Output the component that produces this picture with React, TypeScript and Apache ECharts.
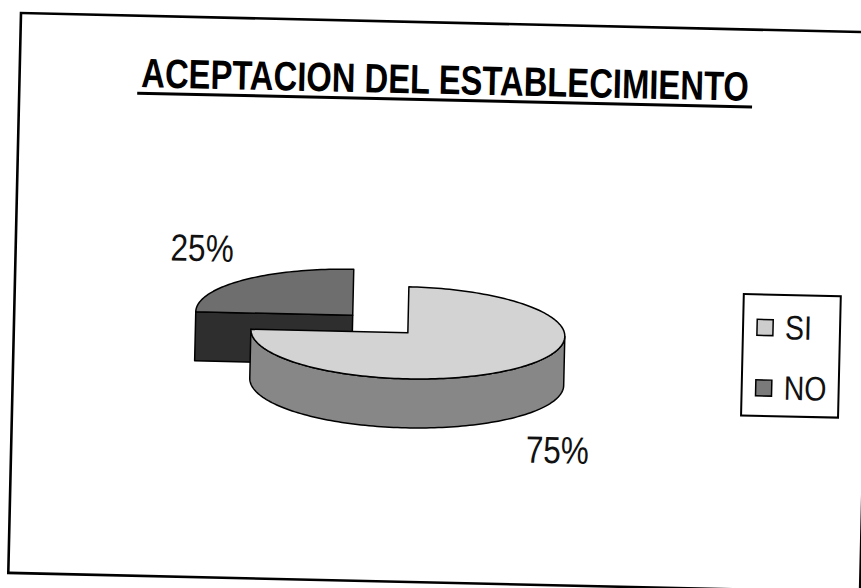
import React, { useEffect, useRef } from "react";
import * as echarts from "echarts";

// ---- data ----
const categories = ["SI", "NO"];
const values = [75, 25];
const titleText = "ACEPTACION DEL ESTABLECIMIENTO";
const explodedCategories = ["NO"];

// ---- styles ----
const TOP_COLORS = ["#d3d3d3", "#6e6e6e"];
const SIDE_COLORS = ["#878787", "#2e2e2e"];
const LEGEND_COLORS = ["#cdcdcd", "#7a7a7a"];
const FONT = "'Liberation Sans', Arial, sans-serif";

// ---- layout (unrotated local coordinates) ----
const CX = 415;
const CY = 324;
const RX = 157;
const RY = 46;
const DEPTH = 49;
const EXPLODE = 0.5;
const START_ANGLE = -90;
const ROTATION_DEG = 1.3;

const total = values.reduce((a, b) => a + b, 0);

const arc = (cx: number, cy: number, a0: number, a1: number, dy = 0) => {
  const pts: number[][] = [];
  const n = Math.max(2, Math.ceil(Math.abs(a1 - a0) / 1.5));
  for (let k = 0; k <= n; k++) {
    const a = ((a0 + ((a1 - a0) * k) / n) * Math.PI) / 180;
    pts.push([cx + RX * Math.cos(a), cy + RY * Math.sin(a) + dy]);
  }
  return pts;
};

const rad = (d: number) => (d * Math.PI) / 180;

function renderItem(params: any, api: any) {
  const i = params.dataIndex;
  const v = api.value(1) as number;
  let before = 0;
  for (let k = 0; k < i; k++) before += values[k];
  const a0 = START_ANGLE + (before / total) * 360;
  const a1 = a0 + (v / total) * 360;
  const midDeg = (a0 + a1) / 2;
  const mid = rad(midDeg);
  const ex = explodedCategories.includes(categories[i]) ? EXPLODE : 0;
  const cx = CX + Math.cos(mid) * RX * ex;
  const cy = CY + Math.sin(mid) * RY * ex;
  const base = Math.round((Math.sin(mid) + 1) * 10) * 10;
  const children: any[] = [];
  const edge = { stroke: "#000", lineWidth: 1.5, lineJoin: "round" };

  const face = (a: number) => {
    const r = rad(a);
    const px = cx + RX * Math.cos(r);
    const py = cy + RY * Math.sin(r);
    return [
      [cx, cy],
      [px, py],
      [px, py + DEPTH],
      [cx, cy + DEPTH],
    ];
  };
  if (Math.sin(rad(a0 - 90)) > 0.01) {
    children.push({ type: "polygon", shape: { points: face(a0) }, style: { fill: SIDE_COLORS[i], ...edge }, z2: base + 1 });
  }
  if (Math.sin(rad(a1 + 90)) > 0.01) {
    children.push({ type: "polygon", shape: { points: face(a1) }, style: { fill: SIDE_COLORS[i], ...edge }, z2: base + 1 });
  }
  for (let k = -1; k <= 1; k++) {
    const s = Math.max(a0, 360 * k);
    const e = Math.min(a1, 360 * k + 180);
    if (e - s > 0.01) {
      const top = arc(cx, cy, s, e);
      const bot = arc(cx, cy, e, s, DEPTH);
      children.push({ type: "polygon", shape: { points: top.concat(bot) }, style: { fill: SIDE_COLORS[i], ...edge }, z2: base + 2 });
    }
  }
  children.push({
    type: "polygon",
    shape: { points: [[cx, cy], ...arc(cx, cy, a0, a1)] },
    style: { fill: TOP_COLORS[i], ...edge },
    z2: base + 3,
  });
  const lx = cx + Math.cos(mid) * (RX + 58);
  const ly = cy + Math.sin(mid) * (RY + 45) + (Math.sin(mid) > 0 ? DEPTH : 0);
  children.push({
    type: "text",
    x: lx,
    y: ly,
    scaleX: 0.83,
    style: {
      text: Math.round((v / total) * 100) + "%",
      fontSize: 38,
      fontFamily: FONT,
      fill: "#111",
      align: "center",
      verticalAlign: "middle",
    },
    z2: 200,
  });
  return { type: "group", children };
}

export default function App() {
  const ref = useRef<HTMLDivElement>(null);
  useEffect(() => {
    if (!ref.current) return;
    const chart = echarts.init(ref.current, undefined, { renderer: "svg" });
    const legendY = [310.5, 371];
    const legendElems: any[] = [];
    categories.forEach((c, i) => {
      legendElems.push({
        type: "rect",
        shape: { x: 764, y: legendY[i] - 8, width: 16, height: 16 },
        style: { fill: LEGEND_COLORS[i], stroke: "#000", lineWidth: 1.5 },
      });
      legendElems.push({
        type: "text",
        x: 792,
        y: legendY[i],
        scaleX: 0.84,
        style: { text: c, fontSize: 34, fontFamily: FONT, fill: "#111", align: "left", verticalAlign: "middle" },
      });
    });
    chart.setOption({
      animation: false,
      graphic: [
        {
          type: "rect",
          shape: { x: 21, y: 13, width: 852, height: 560 },
          style: { fill: "none", stroke: "#000", lineWidth: 2.6 },
        },
        {
          type: "text",
          x: 446.5,
          y: 70,
          scaleX: 0.8,
          style: {
            text: titleText,
            fontSize: 41,
            fontWeight: "bold",
            fontFamily: FONT,
            fill: "#000",
            align: "center",
            verticalAlign: "middle",
          },
        },
        {
          type: "line",
          shape: { x1: 139, y1: 90.5, x2: 754, y2: 90.5 },
          style: { stroke: "#000", lineWidth: 3 },
        },
        {
          type: "rect",
          shape: { x: 750, y: 277.5, width: 97, height: 121.5 },
          style: { fill: "#fff", stroke: "#000", lineWidth: 2 },
        },
        ...legendElems,
      ],
      series: [
        {
          type: "custom",
          coordinateSystem: "none",
          silent: true,
          renderItem,
          data: values.map((v, i) => ({ name: categories[i], value: [i, v] })),
        },
      ],
    });
    return () => chart.dispose();
  }, []);
  return (
    <div style={{ position: "fixed", left: 0, top: 0, width: 861, height: 588, overflow: "hidden", background: "#fff" }}>
      <div
        ref={ref}
        style={{
          position: "absolute",
          left: 0,
          top: 0,
          width: 900,
          height: 620,
          transform: `rotate(${ROTATION_DEG}deg)`,
          transformOrigin: "21px 13px",
        }}
      />
    </div>
  );
}
